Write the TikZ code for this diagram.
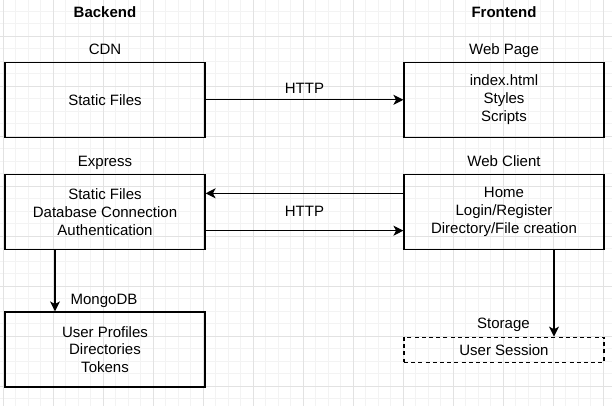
\documentclass[tikz,border=0pt]{standalone}
\usepackage{fontspec}
\setmainfont{Liberation Sans}
\usetikzlibrary{arrows.meta}
\definecolor{gridminor}{HTML}{F3F3F3}
\definecolor{gridmajor}{HTML}{E2E2E2}

\tikzset{
  box/.style={draw, line width=0.9pt, minimum width=150pt, minimum height=56.25pt, align=center, inner sep=0pt},
  storebox/.style={draw, line width=0.9pt, dash pattern=on 3pt off 2.4pt, minimum width=150pt, minimum height=18.75pt, inner sep=0pt},
  title/.style={anchor=base, font=\fontsize{11.25}{13.3}\selectfont\bfseries},
  lbl/.style={anchor=base, inner sep=0pt},
  arr/.style={-{Stealth[length=7.5pt,width=7.5pt,inset=2pt]}, line width=0.9pt},
}

\begin{document}
\begin{tikzpicture}[x=0.75pt, y=-0.75pt, font=\fontsize{11.25}{13.3}\selectfont]
\useasboundingbox (0,0) rectangle (612,406);
%\draw [help lines] (0,0) grid (612,406);

% background grid
\foreach \k in {0,...,48}
  \draw [gridminor, line width=0.75pt] ({3.3+12.5*\k},0) -- ({3.3+12.5*\k},406);
\foreach \k in {0,...,32}
  \draw [gridminor, line width=0.75pt] (0,{-1+12.5*\k}) -- (612,{-1+12.5*\k});
\foreach \k in {0,...,12}
  \draw [gridmajor, line width=0.75pt] ({3.3+50*\k},0) -- ({3.3+50*\k},406);
\foreach \k in {0,...,7}
  \draw [gridmajor, line width=0.75pt] (0,{36.5+50*\k}) -- (612,{36.5+50*\k});

% column titles
\node [title] (backend) at (105,17.4) {Backend};
\node [title] (frontend) at (504,17.4) {Frontend};

% boxes
\node [box] (cdn) at (105,99.8) {Static Files};
\node [box] (page) at (504,99.8) {index.html\\Styles\\Scripts};
\node [box] (express) at (105,212) {Static Files\\Database Connection\\Authentication};
\node [box] (client) at (504,212) {Home\\Login/Register\\Directory/File creation};
\node [box] (mongo) at (105,349.5) {User Profiles\\Directories\\Tokens};
\node [storebox] (session) at (504,349.7) {User Session};

% box labels
\node [lbl] (cdnlbl) at (105,54.4) {CDN};
\node [lbl] (pagelbl) at (504,54.4) {Web Page};
\node [lbl] (expresslbl) at (105,167) {Express};
\node [lbl] (clientlbl) at (504,167) {Web Client};
\node [lbl] (mongolbl) at (104,304.7) {MongoDB};
\node [lbl] (storelbl) at (503.5,328.4) {Storage};
\node [lbl] (httpa) at (304.5,93.4) {HTTP};
\node [lbl] (httpb) at (304.5,217) {HTTP};

% connectors
\draw [arr] (cdn) -- (page);
\draw [arr] ([yshift=14pt]client.west) -- ([yshift=14pt]express.east);
\draw [arr] ([yshift=-14pt]express.east) -- ([yshift=-14pt]client.west);
\draw [arr] ([xshift=-37.5pt]express.south) -- ([xshift=-37.5pt]mongo.north);
\draw [arr] ([xshift=37.5pt]client.south) -- ([xshift=37.5pt]session.north);
\end{tikzpicture}
\end{document}
